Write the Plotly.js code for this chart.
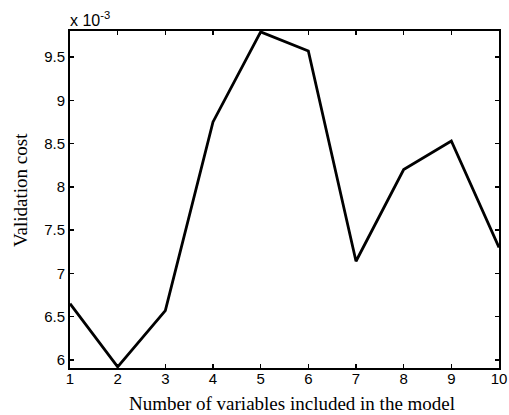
<!DOCTYPE html>
<html>
<head>
<meta charset="utf-8">
<script src="https://cdn.plot.ly/plotly-3.0.1.min.js"></script>
<style>html,body{margin:0;padding:0;background:#fff;}#chart{width:509px;height:415px;}</style>
</head>
<body>
<div id="chart"></div>
<script>
// Number of variables included in the model
var numVars = [1, 2, 3, 4, 5, 6, 7, 8, 9, 10];
// Validation cost, in units of 1e-3
var validationCost = [6.65, 5.92, 6.57, 8.75, 9.79, 9.57, 7.14, 8.20, 8.53, 7.30];
var yTickVals = [6, 6.5, 7, 7.5, 8, 8.5, 9, 9.5];
var yTickText = ['6', '6.5', '7', '7.5', '8', '8.5', '9', '9.5'];
var xTickVals = [1, 2, 3, 4, 5, 6, 7, 8, 9, 10];
var xTitle = 'Number of variables included in the model';
var yTitle = 'Validation cost';
var expLabel = 'x 10<sup>-3</sup>';

var serif = 'Liberation Serif, Times New Roman, serif';
var trace = {
  x: numVars, y: validationCost, type: 'scatter', mode: 'lines',
  line: {color: '#000', width: 2.8}, hoverinfo: 'none'
};
var layout = {
  width: 509, height: 415,
  margin: {l: 70, r: 10, t: 31, b: 47},
  paper_bgcolor: '#fff', plot_bgcolor: '#fff',
  showlegend: false,
  font: {family: 'Liberation Sans, Arial, sans-serif', size: 15, color: '#000'},
  xaxis: {
    range: [1, 10], tickvals: xTickVals, ticks: 'inside', ticklen: 4, tickwidth: 1.5,
    tickcolor: '#000', showline: true, linecolor: '#000', linewidth: 2, mirror: 'ticks',
    showgrid: false, zeroline: false, tickfont: {size: 15}, ticklabelstandoff: -4
  },
  yaxis: {
    range: [5.907, 9.80], tickvals: yTickVals, ticktext: yTickText, ticks: 'inside', ticklen: 4, tickwidth: 1.5,
    tickcolor: '#000', showline: true, linecolor: '#000', linewidth: 2, mirror: 'ticks',
    showgrid: false, zeroline: false, tickfont: {size: 15}
  },
  annotations: [
    {xref: 'paper', yref: 'paper', x: 0, y: 1, xanchor: 'left', yanchor: 'bottom',
     text: expLabel, showarrow: false, font: {size: 16}, xshift: -2, yshift: 0},
    {xref: 'paper', yref: 'paper', x: 0.5186, y: -0.105, xanchor: 'center', yanchor: 'middle',
     text: xTitle, showarrow: false, font: {family: serif, size: 19}},
    {xref: 'paper', yref: 'paper', x: -0.1166, y: 0.528, xanchor: 'center', yanchor: 'middle',
     text: yTitle, textangle: -90, showarrow: false, font: {family: serif, size: 19}}
  ]
};
Plotly.newPlot('chart', [trace], layout, {displayModeBar: false, staticPlot: true});
</script>
</body>
</html>
